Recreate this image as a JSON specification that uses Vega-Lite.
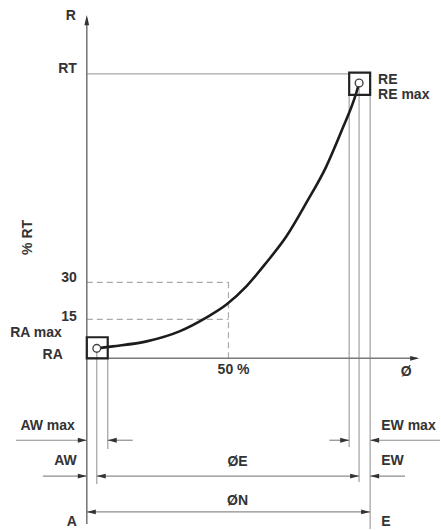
{
  "$schema": "https://vega.github.io/schema/vega-lite/v6.json",
  "width": 441,
  "height": 530,
  "padding": 0,
  "autosize": {"type": "fit", "contains": "padding"},
  "background": "white",
  "config": {"view": {"stroke": null}},
  "datasets": {
    "segments": [
      {"kind": "axis", "x": 0, "y": -58.2, "x2": 0, "y2": 119.5},
      {"kind": "axis", "x": 0, "y": 0, "x2": 116.5, "y2": 0},
      {"kind": "ext", "x": 0, "y": 100, "x2": 92.6, "y2": 100},
      {"kind": "ext", "x": 3.52, "y": 2.3, "x2": 3.52, "y2": -44.2},
      {"kind": "ext", "x": 7.39, "y": 0, "x2": 7.39, "y2": -31.9},
      {"kind": "ext", "x": 92.6, "y": 92.6, "x2": 92.6, "y2": -31.2},
      {"kind": "ext", "x": 96.1, "y": 95.4, "x2": 96.1, "y2": -43.5},
      {"kind": "ext", "x": 100, "y": 92.6, "x2": 100, "y2": -60},
      {"kind": "dim", "x": -25, "y": -28.8, "x2": 0, "y2": -28.8},
      {"kind": "dim", "x": 16.2, "y": -28.8, "x2": 7.39, "y2": -28.8},
      {"kind": "dim", "x": 85.6, "y": -28.8, "x2": 92.6, "y2": -28.8},
      {"kind": "dim", "x": 124.6, "y": -28.8, "x2": 100, "y2": -28.8},
      {"kind": "dim", "x": -15.5, "y": -41.4, "x2": 0, "y2": -41.4},
      {"kind": "dim", "x": 3.52, "y": -41.4, "x2": 96.1, "y2": -41.4},
      {"kind": "dim", "x": 112.3, "y": -41.4, "x2": 100, "y2": -41.4},
      {"kind": "dim", "x": 0, "y": -54, "x2": 100, "y2": -54},
      {"kind": "dash", "x": 0, "y": 26.7, "x2": 50, "y2": 26.7},
      {"kind": "dash", "x": 0, "y": 13.7, "x2": 50, "y2": 13.7},
      {"kind": "dash", "x": 50, "y": 0, "x2": 50, "y2": 26.7}
    ],
    "arrows": [
      {"dir": "up", "x": 0, "y": 120.7},
      {"dir": "right", "x": 117.3, "y": 0},
      {"dir": "right", "x": 0, "y": -28.8},
      {"dir": "left", "x": 7.39, "y": -28.8},
      {"dir": "right", "x": 92.6, "y": -28.8},
      {"dir": "left", "x": 100, "y": -28.8},
      {"dir": "right", "x": 0, "y": -41.4},
      {"dir": "left", "x": 3.52, "y": -41.4},
      {"dir": "right", "x": 96.1, "y": -41.4},
      {"dir": "left", "x": 100, "y": -41.4},
      {"dir": "left", "x": 0, "y": -54},
      {"dir": "right", "x": 100, "y": -54}
    ],
    "curve": [
      {"o": 0, "x": 3.52, "y": 3.5},
      {"o": 1, "x": 9.15, "y": 4.21},
      {"o": 2, "x": 21.1, "y": 5.96},
      {"o": 3, "x": 32.7, "y": 9.47},
      {"o": 4, "x": 42.3, "y": 14.4},
      {"o": 5, "x": 49.3, "y": 18.9},
      {"o": 6, "x": 56.3, "y": 25.3},
      {"o": 7, "x": 63.4, "y": 33.7},
      {"o": 8, "x": 70.4, "y": 42.8},
      {"o": 9, "x": 77.5, "y": 54.7},
      {"o": 10, "x": 84.5, "y": 67.4},
      {"o": 11, "x": 90.1, "y": 80.4},
      {"o": 12, "x": 95.1, "y": 93.3},
      {"o": 13, "x": 96.1, "y": 96.8}
    ],
    "boxes": [
      {"x": 0, "y": 0, "x2": 7.39, "y2": 7.4},
      {"x": 92.6, "y": 92.6, "x2": 100, "y2": 100.4}
    ],
    "circles": [
      {"x": 3.52, "y": 3.5},
      {"x": 96.1, "y": 96.8}
    ],
    "labels": [
      {"side": "right", "label": "R", "x": -3.87, "y": 118.9},
      {"side": "right", "label": "RT", "x": -3.52, "y": 100.2},
      {"side": "right", "label": "30", "x": -3.52, "y": 26.7},
      {"side": "right", "label": "15", "x": -3.52, "y": 13.0},
      {"side": "right", "label": "RA max", "x": -8.8, "y": 7.37},
      {"side": "right", "label": "RA", "x": -8.45, "y": -0.35},
      {"side": "right", "label": "AW max", "x": -4.2, "y": -25.3},
      {"side": "right", "label": "AW", "x": -3.52, "y": -37.5},
      {"side": "right", "label": "A", "x": -3.52, "y": -58.9},
      {"side": "left", "label": "RE", "x": 102.8, "y": 96.5},
      {"side": "left", "label": "RE max", "x": 102.8, "y": 91.2},
      {"side": "left", "label": "EW max", "x": 103.9, "y": -25.3},
      {"side": "left", "label": "EW", "x": 103.9, "y": -37.5},
      {"side": "left", "label": "E", "x": 103.9, "y": -58.9},
      {"side": "center", "label": "50 %", "x": 51.8, "y": -5.6},
      {"side": "center", "label": "Ø", "x": 112.7, "y": -6.3},
      {"side": "center", "label": "ØE", "x": 53.2, "y": -37.9},
      {"side": "center", "label": "ØN", "x": 53.2, "y": -51.6},
      {"side": "rot", "label": "% RT", "x": -20.8, "y": 42.5}
    ]
  },
  "encoding": {
    "x": {"field": "x", "type": "quantitative", "axis": null, "scale": {"domain": [-30.63, 124.65], "nice": false, "zero": false}},
    "y": {"field": "y", "type": "quantitative", "axis": null, "scale": {"domain": [-60, 125.96], "nice": false, "zero": false}}
  },
  "layer": [
    {
      "data": {"name": "segments"},
      "transform": [{"filter": "datum.kind === 'dash'"}],
      "mark": {"type": "rule", "color": "#aaaaaa", "strokeWidth": 1.2, "strokeDash": [6, 4]},
      "encoding": {"x2": {"field": "x2"}, "y2": {"field": "y2"}}
    },
    {
      "data": {"name": "segments"},
      "transform": [{"filter": "datum.kind === 'ext'"}],
      "mark": {"type": "rule", "color": "#a8a8a8", "strokeWidth": 1.3},
      "encoding": {"x2": {"field": "x2"}, "y2": {"field": "y2"}}
    },
    {
      "data": {"name": "segments"},
      "transform": [{"filter": "datum.kind === 'dim'"}],
      "mark": {"type": "rule", "color": "#8c8c8c", "strokeWidth": 1.2},
      "encoding": {"x2": {"field": "x2"}, "y2": {"field": "y2"}}
    },
    {
      "data": {"name": "segments"},
      "transform": [{"filter": "datum.kind === 'axis'"}],
      "mark": {"type": "rule", "color": "#7a7a7a", "strokeWidth": 1.6},
      "encoding": {"x2": {"field": "x2"}, "y2": {"field": "y2"}}
    },
    {
      "data": {"name": "curve"},
      "mark": {"type": "line", "color": "#1c1c1c", "strokeWidth": 2.6, "interpolate": "monotone"},
      "encoding": {"order": {"field": "o", "type": "quantitative"}}
    },
    {
      "data": {"name": "boxes"},
      "mark": {"type": "rect", "filled": false, "color": "#222222", "strokeWidth": 2.2},
      "encoding": {"x2": {"field": "x2"}, "y2": {"field": "y2"}}
    },
    {
      "data": {"name": "circles"},
      "mark": {"type": "point", "shape": "circle", "filled": true, "fill": "white", "stroke": "#444444", "strokeWidth": 1.4, "size": 60, "opacity": 1}
    },
    {
      "data": {"name": "arrows"},
      "transform": [{"filter": "datum.dir === 'right'"}],
      "mark": {"type": "point", "shape": "M0,0L-3,-0.8L-3,0.8Z", "filled": true, "color": "#333333", "size": 36, "opacity": 1}
    },
    {
      "data": {"name": "arrows"},
      "transform": [{"filter": "datum.dir === 'left'"}],
      "mark": {"type": "point", "shape": "M0,0L3,-0.8L3,0.8Z", "filled": true, "color": "#333333", "size": 36, "opacity": 1}
    },
    {
      "data": {"name": "arrows"},
      "transform": [{"filter": "datum.dir === 'up'"}],
      "mark": {"type": "point", "shape": "M0,0L-0.8,3.4L0.8,3.4Z", "filled": true, "color": "#333333", "size": 36, "opacity": 1}
    },
    {
      "data": {"name": "labels"},
      "transform": [{"filter": "datum.side === 'right'"}],
      "mark": {"type": "text", "align": "right", "baseline": "alphabetic", "font": "Liberation Sans", "fontWeight": "bold", "fontSize": 14, "color": "#333333"},
      "encoding": {"text": {"field": "label"}}
    },
    {
      "data": {"name": "labels"},
      "transform": [{"filter": "datum.side === 'left'"}],
      "mark": {"type": "text", "align": "left", "baseline": "alphabetic", "font": "Liberation Sans", "fontWeight": "bold", "fontSize": 14, "color": "#333333"},
      "encoding": {"text": {"field": "label"}}
    },
    {
      "data": {"name": "labels"},
      "transform": [{"filter": "datum.side === 'center'"}],
      "mark": {"type": "text", "align": "center", "baseline": "alphabetic", "font": "Liberation Sans", "fontWeight": "bold", "fontSize": 14, "color": "#333333"},
      "encoding": {"text": {"field": "label"}}
    },
    {
      "data": {"name": "labels"},
      "transform": [{"filter": "datum.side === 'rot'"}],
      "mark": {"type": "text", "align": "center", "baseline": "middle", "angle": 270, "font": "Liberation Sans", "fontWeight": "bold", "fontSize": 14, "color": "#333333"},
      "encoding": {"text": {"field": "label"}}
    }
  ]
}
